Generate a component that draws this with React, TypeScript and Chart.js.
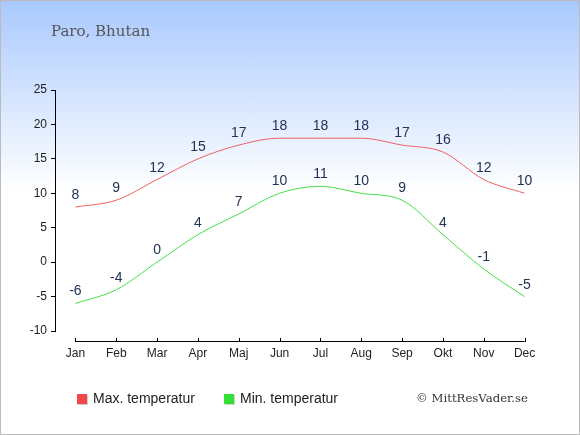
import { Chart, registerables } from "chart.js"
import { useEffect, useRef } from "react"

Chart.register(...registerables)

const months = ["Jan", "Feb", "Mar", "Apr", "Maj", "Jun", "Jul", "Aug", "Sep", "Okt", "Nov", "Dec"]
const maxTemp = [8, 9, 12, 15, 17, 18, 18, 18, 17, 16, 12, 10]
const minTemp = [-6, -4, 0, 4, 7, 10, 11, 10, 9, 4, -1, -5]
const yTicks = [-10, -5, 0, 5, 10, 15, 20, 25]

const title = "Paro, Bhutan"
const credit = "\u00a9 MittResVader.se"
const sans = "'Liberation Sans', Arial, sans-serif"
const serif = "'DejaVu Serif', Georgia, serif"

// x axis line (only between first and last month), value labels, legend, texts
const decorations = {
    id: "decorations",
    afterDatasetsDraw(chart: any) {
        const ctx = chart.ctx
        const xs = chart.scales.x
        const first = xs.getPixelForValue(0)
        const last = xs.getPixelForValue(months.length - 1)
        const axisY = chart.chartArea.bottom + 10

        ctx.save()
        ctx.strokeStyle = "#000"
        ctx.lineWidth = 1
        ctx.beginPath()
        ctx.moveTo(first, axisY + 0.5)
        ctx.lineTo(last, axisY + 0.5)
        months.forEach((_, i) => {
            const px = Math.round(xs.getPixelForValue(i)) + 0.5
            ctx.moveTo(px, axisY - 3)
            ctx.lineTo(px, axisY + 1)
        })
        ctx.stroke()

        // value labels above each point
        ctx.fillStyle = "#223355"
        ctx.font = "14px " + sans
        ctx.textAlign = "center"
        ctx.textBaseline = "alphabetic"
        chart.data.datasets.forEach((ds: any, di: number) => {
            const meta = chart.getDatasetMeta(di)
            meta.data.forEach((pt: any, i: number) => {
                ctx.fillText(String(ds.data[i]), pt.x, pt.y - 8)
            })
        })

        // legend (canvas sits 1px inside the border)
        const legendY = 393
        const legendX = [76, 223]
        chart.data.datasets.forEach((ds: any, di: number) => {
            const lx = legendX[di]
            ctx.fillStyle = "rgba(0,0,0,0.18)"
            ctx.fillRect(lx + 1, legendY + 1, 10, 10)
            ctx.fillStyle = ds.legendColor
            ctx.fillRect(lx, legendY, 10, 10)
            ctx.fillStyle = "#222"
            ctx.font = "14px " + sans
            ctx.textAlign = "left"
            ctx.textBaseline = "middle"
            ctx.fillText(ds.label, lx + 16, legendY + 5)
        })

        // title and credit
        ctx.fillStyle = "#555"
        ctx.font = "15px " + serif
        ctx.textAlign = "left"
        ctx.textBaseline = "middle"
        ctx.fillText(title, 50, 31)

        ctx.fillStyle = "#333"
        ctx.font = "11.7px " + serif
        ctx.textAlign = "right"
        ctx.fillText(credit, 527, 398)
        ctx.restore()
    }
}

const App = () => {
    const canvasRef = useRef(null)

    useEffect(() => {
        if (!canvasRef.current) return
        const chart = new Chart(canvasRef.current, {
            type: "line",
            data: {
                labels: months,
                datasets: [
                    {
                        label: "Max. temperatur",
                        data: maxTemp,
                        borderColor: "#f06060",
                        legendColor: "#f04848",
                        borderWidth: 1,
                        pointRadius: 0,
                        cubicInterpolationMode: "monotone",
                        fill: false
                    } as any,
                    {
                        label: "Min. temperatur",
                        data: minTemp,
                        borderColor: "#44e044",
                        legendColor: "#33e033",
                        borderWidth: 1,
                        pointRadius: 0,
                        cubicInterpolationMode: "monotone",
                        fill: false
                    } as any
                ]
            },
            options: {
                responsive: false,
                animation: false,
                devicePixelRatio: 1,
                layout: { padding: { top: 89, left: 0, right: 34, bottom: 0 } },
                plugins: {
                    legend: { display: false },
                    tooltip: { enabled: false }
                },
                scales: {
                    x: {
                        offset: true,
                        grid: { display: false, drawTicks: false },
                        border: { display: false },
                        ticks: { color: "#222", font: { size: 12, family: sans }, padding: 15 },
                        afterFit: (s: any) => { s.height = 103 }
                    },
                    y: {
                        min: -10,
                        max: 25,
                        afterBuildTicks: (s: any) => { s.ticks = yTicks.map(v => ({ value: v })) },
                        grid: { drawOnChartArea: false, drawTicks: true, tickLength: 4, color: "#000" },
                        border: { display: true, color: "#000", width: 1 },
                        ticks: { color: "#222", font: { size: 12, family: sans }, padding: 4 },
                        afterFit: (s: any) => { s.width = 54 }
                    }
                }
            },
            plugins: [decorations]
        })
        return () => {
            chart.destroy()
        }
    }, [])

    return (
        <div style={{
            position: "absolute", left: 0, top: 0, width: 580, height: 435,
            boxSizing: "border-box", border: "1px solid #bbb",
            background: "linear-gradient(to bottom, #a9c9fe 0px, #ffffff 190px, #ffffff 100%)"
        }}>
            <canvas ref={canvasRef} width={578} height={433} style={{ display: "block" }}></canvas>
        </div>
    )
}

export default App
